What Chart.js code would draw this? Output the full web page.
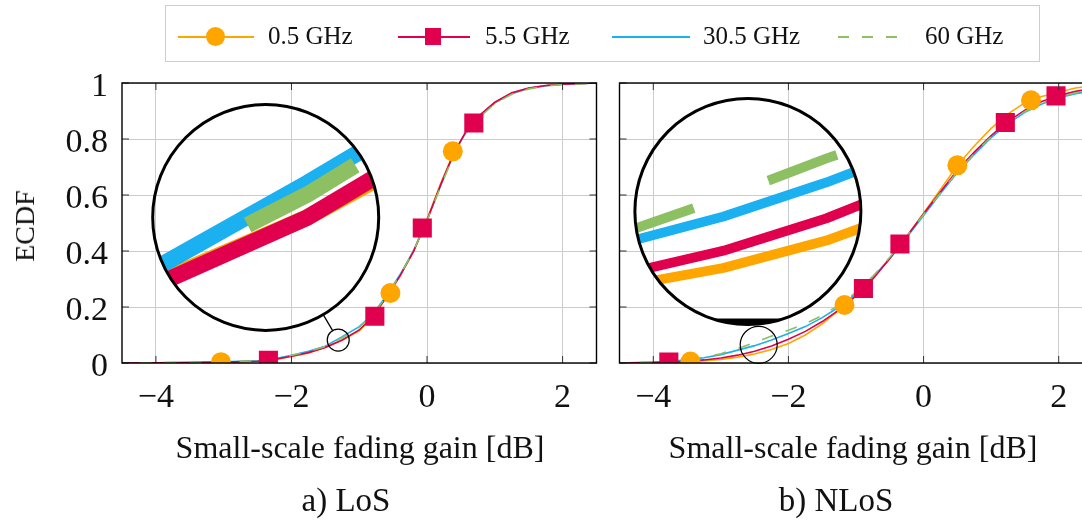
<!DOCTYPE html>
<html><head><meta charset="utf-8">
<script src="https://cdn.jsdelivr.net/npm/chart.js@4.4.1/dist/chart.umd.min.js"></script>
<style>
html,body{margin:0;padding:0;background:#fff;}
body{width:1082px;height:523px;overflow:hidden;position:relative;font-family:"Liberation Serif","DejaVu Serif",serif;color:#111;}
.cw{position:absolute;top:0;}
.t{position:absolute;white-space:nowrap;line-height:1;}
.ctr{transform:translate(-50%,-50%);}
#legend{position:absolute;left:165px;top:5px;width:875px;height:57px;border:1.5px solid #cdcdcd;box-sizing:border-box;}
.ll{position:absolute;height:2px;top:36px;}
.lt{position:absolute;top:22px;font-size:25px;line-height:28px;white-space:nowrap;}
</style></head>
<body>
<div class="cw" style="left:0;width:610px;height:523px"><canvas id="c1" width="610" height="523"></canvas></div>
<div class="cw" style="left:606px;width:500px;height:523px"><canvas id="c2" width="500" height="523"></canvas></div>

<div id="legend"></div>
<div class="ll" style="left:178px;width:76px;background:#FFA500"></div>
<div style="position:absolute;left:206px;top:27px;width:19px;height:19px;border-radius:50%;background:#FFA500"></div>
<div class="lt" style="left:268px">0.5 GHz</div>
<div class="ll" style="left:398px;width:72px;background:#E0004D"></div>
<div style="position:absolute;left:425px;top:28px;width:16px;height:17px;background:#E0004D"></div>
<div class="lt" style="left:485px">5.5 GHz</div>
<div class="ll" style="left:612px;width:78px;background:#1BB0F0"></div>
<div class="lt" style="left:703px">30.5 GHz</div>
<div class="ll" style="left:838px;width:72px;background:repeating-linear-gradient(to right,#8CC063 0 11px,transparent 11px 24px)"></div>
<div class="lt" style="left:925px">60 GHz</div>

<div class="t ctr" style="left:25px;top:226px;font-size:28px;transform:translate(-50%,-50%) rotate(-90deg)">ECDF</div>
<div class="t ctr" style="left:360px;top:447px;font-size:32px">Small-scale fading gain [dB]</div>
<div class="t ctr" style="left:853px;top:447px;font-size:32px">Small-scale fading gain [dB]</div>
<div class="t ctr" style="left:346px;top:500px;font-size:33px">a) LoS</div>
<div class="t ctr" style="left:836px;top:500px;font-size:33px">b) NLoS</div>

<script>
// ---------- data ----------
const seriesNames = ['0.5 GHz','5.5 GHz','30.5 GHz','60 GHz'];
const yTicks = [0, 0.2, 0.4, 0.6, 0.8, 1];
const xTicks = [-4, -2, 0, 2];

// LoS
const losX   = [-4.5,-4,-3.5,-3,-2.5,-2.25,-2,-1.75,-1.5,-1.25,-1,-0.8,-0.6,-0.4,-0.2,0,0.2,0.4,0.6,0.8,1,1.25,1.5,1.75,2,2.5];
const los05  = [0,0.001,0.002,0.003,0.006,0.012,0.023,0.036,0.056,0.082,0.115,0.163,0.235,0.31,0.40,0.515,0.64,0.755,0.835,0.885,0.928,0.962,0.98,0.99,0.996,1];
const los55  = [0,0.001,0.002,0.003,0.006,0.013,0.024,0.037,0.055,0.082,0.118,0.166,0.235,0.31,0.398,0.51,0.636,0.752,0.838,0.89,0.932,0.965,0.982,0.991,0.996,1];
const los305 = [0,0.001,0.002,0.004,0.008,0.015,0.028,0.042,0.06,0.094,0.13,0.174,0.24,0.315,0.40,0.51,0.632,0.75,0.835,0.888,0.93,0.963,0.981,0.99,0.996,1];
const los60  = [0,0.001,0.002,0.004,0.008,0.015,0.027,0.041,0.059,0.09,0.127,0.171,0.238,0.313,0.40,0.508,0.63,0.746,0.83,0.883,0.926,0.96,0.979,0.989,0.995,1];
const losMark05X = [-3.04,-0.54,0.38];
const losMark05Y = [0.003,0.25,0.756];
const losMark55X = [-2.34,-0.77,-0.07,0.69];
const losMark55Y = [0.01,0.167,0.482,0.857];

// NLoS
const nlosX   = [-4.5,-4,-3.75,-3.5,-3.25,-3,-2.75,-2.5,-2.25,-2,-1.75,-1.5,-1.25,-1,-0.75,-0.5,-0.25,0,0.25,0.5,0.75,1,1.25,1.5,1.75,2,2.25,2.5];
const nlos05  = [0,0.001,0.002,0.004,0.008,0.013,0.021,0.032,0.048,0.07,0.1,0.14,0.19,0.245,0.305,0.375,0.452,0.535,0.62,0.705,0.775,0.838,0.89,0.93,0.952,0.968,0.982,0.99];
const nlos55  = [0,0.002,0.003,0.006,0.011,0.018,0.028,0.042,0.061,0.085,0.113,0.148,0.19,0.24,0.3,0.373,0.452,0.533,0.612,0.688,0.753,0.812,0.863,0.903,0.934,0.955,0.97,0.98];
const nlos305 = [0,0.003,0.006,0.011,0.019,0.03,0.046,0.062,0.082,0.105,0.13,0.162,0.2,0.248,0.305,0.372,0.448,0.527,0.605,0.68,0.745,0.805,0.855,0.895,0.925,0.947,0.962,0.972];
const nlos60  = [0,0.003,0.006,0.012,0.021,0.033,0.052,0.073,0.096,0.117,0.14,0.17,0.207,0.252,0.31,0.378,0.452,0.53,0.608,0.683,0.748,0.808,0.858,0.898,0.928,0.95,0.965,0.975];
const nlosMark05X = [-3.45,-1.17,0.5,1.59];
const nlosMark05Y = [0.005,0.207,0.706,0.938];
const nlosMark55X = [-3.77,-0.89,-0.35,1.21,1.96];
const nlosMark55Y = [0.003,0.266,0.425,0.859,0.954];

// ---------- styles ----------
const COL = {o:'#FFA500', r:'#E0004D', b:'#1BB0F0', g:'#8CC063'};
const FONT = "'Liberation Serif','DejaVu Serif',serif";
const pts = (xs, ys) => xs.map((x,i)=>({x, y:ys[i]}));

function lineDs(label, xs, ys, color, dash, dashOff){
  return {label, data:pts(xs,ys), showLine:true, borderColor:color, backgroundColor:color,
    borderWidth:1.6, borderDash:dash||[], borderDashOffset:dashOff||0, pointRadius:0, tension:0, fill:false};
}
function markDs(label, xs, ys, color, style, r){
  return {label, data:pts(xs,ys), showLine:false, borderColor:color, backgroundColor:color,
    pointStyle:style, pointRadius:r, pointBorderWidth:0, pointHoverRadius:r};
}

const framePlugin = {
  id:'frame',
  afterDraw(chart){
    const {ctx, chartArea:a} = chart;
    const X = chart.scales.x, Y = chart.scales.y;
    ctx.save();
    ctx.strokeStyle = '#333'; ctx.lineWidth = 1;
    xTicks.forEach(v=>{const p = X.getPixelForValue(v); ctx.beginPath();
      ctx.moveTo(p,a.bottom); ctx.lineTo(p,a.bottom-7); ctx.moveTo(p,a.top); ctx.lineTo(p,a.top+7); ctx.stroke();});
    yTicks.forEach(v=>{const p = Y.getPixelForValue(v); ctx.beginPath();
      ctx.moveTo(a.left,p); ctx.lineTo(a.left+7,p); ctx.moveTo(a.right,p); ctx.lineTo(a.right-7,p); ctx.stroke();});
    ctx.strokeStyle = '#000'; ctx.lineWidth = 1.4;
    ctx.strokeRect(a.left, a.top, a.right-a.left, a.bottom-a.top);
    ctx.restore();
  }
};

const spyPlugin = {
  id:'spy',
  afterDatasetsDraw(chart, args, o){
    if (!o || o.x === undefined) return;
    const ctx = chart.ctx, X = chart.scales.x, Y = chart.scales.y;
    const sx = X.getPixelForValue(o.x), sy = Y.getPixelForValue(o.y);
    const bx = X.getPixelForValue(o.bx), by = Y.getPixelForValue(o.by);
    const m = o.R / o.r;
    ctx.save();
    ctx.beginPath(); ctx.arc(bx, by, o.R, 0, Math.PI*2); ctx.clip();
    ctx.translate(bx, by); ctx.scale(m, m); ctx.translate(-sx, -sy);
    const metas = chart.getSortedVisibleDatasetMetas();
    for (let i = metas.length-1; i >= 0; i--){
      const meta = metas[i], ds = chart.data.datasets[meta.index];
      if (!ds.showLine) continue;
      ctx.beginPath();
      meta.data.forEach((p,j)=>{ j ? ctx.lineTo(p.x,p.y) : ctx.moveTo(p.x,p.y); });
      ctx.strokeStyle = ds.borderColor; ctx.lineWidth = ds.borderWidth;
      ctx.setLineDash(ds.borderDash || []); ctx.lineDashOffset = ds.borderDashOffset || 0;
      ctx.lineJoin = 'round';
      ctx.stroke();
    }
    ctx.restore();
    ctx.save();
    ctx.strokeStyle = '#000';
    const dx = sx-bx, dy = sy-by, d = Math.hypot(dx,dy), ux = dx/d, uy = dy/d;
    const gap = d - o.R - o.r;
    if (gap > 3){
      ctx.lineWidth = 1.3; ctx.beginPath();
      ctx.moveTo(bx+ux*o.R, by+uy*o.R); ctx.lineTo(sx-ux*o.r, sy-uy*o.r); ctx.stroke();
    } else {
      ctx.save(); ctx.beginPath(); ctx.arc(bx,by,o.R,0,Math.PI*2); ctx.clip();
      ctx.fillStyle = '#000'; ctx.fillRect(bx-o.R, by+o.R-6, 2*o.R, 8); ctx.restore();
    }
    ctx.lineWidth = 3; ctx.beginPath(); ctx.arc(bx,by,o.R,0,Math.PI*2); ctx.stroke();
    ctx.lineWidth = 1.2; ctx.beginPath(); ctx.arc(sx,sy,o.r,0,Math.PI*2); ctx.stroke();
    ctx.restore();
  }
};

function makeChart(id, xs, s05, s305, s55, s60, m05x, m05y, m55x, m55y, showY, pad, yW, spy, dashOff){
  const datasets = [
    markDs(seriesNames[0]+' marks', m05x, m05y, COL.o, 'circle', 10),
    markDs(seriesNames[1]+' marks', m55x, m55y, COL.r, 'rect', 13.5),
    lineDs(seriesNames[3], xs, s60, COL.g, [12,13], dashOff),
    lineDs(seriesNames[1], xs, s55, COL.r),
    lineDs(seriesNames[2], xs, s305, COL.b),
    lineDs(seriesNames[0], xs, s05, COL.o)
  ];
  return new Chart(document.getElementById(id), {
    type:'line',
    data:{datasets},
    plugins:[spyPlugin, framePlugin],
    options:{
      responsive:false, animation:false, events:[],
      layout:{padding:pad},
      plugins:{legend:{display:false}, tooltip:{enabled:false}, spy},
      scales:{
        x:{type:'linear', min:-4.5, max:2.5,
          afterBuildTicks:s=>{s.ticks = xTicks.map(v=>({value:v}));},
          afterFit:s=>{s.height = 160;},
          grid:{color:'#cccccc', lineWidth:1, drawTicks:false},
          border:{display:false},
          ticks:{padding:15, color:'#111', font:{family:FONT, size:34},
            callback:v=>String(v).replace('-', '\u2212')}},
        y:{type:'linear', min:0, max:1,
          afterBuildTicks:s=>{s.ticks = yTicks.map(v=>({value:v}));},
          afterFit:s=>{s.width = yW;},
          grid:{color:'#cccccc', lineWidth:1, drawTicks:false},
          border:{display:false},
          ticks:{display:showY, padding:14, labelOffset:4, color:'#111', font:{family:FONT, size:34},
            callback:v=>String(v)}}
      }
    }
  });
}

makeChart('c1', losX, los05, los305, los55, los60, losMark05X, losMark05Y, losMark55X, losMark55Y,
  true, {top:83, right:10, left:0, bottom:0}, 122,
  {x:-1.31, y:0.082, r:11, bx:-2.38, by:0.52, R:113}, 7.5);
makeChart('c2', nlosX, nlos05, nlos305, nlos55, nlos60, nlosMark05X, nlosMark05Y, nlosMark55X, nlosMark55Y,
  false, {top:83, right:13, left:0, bottom:0}, 7,
  {x:-2.44, y:0.065, r:18.5, bx:-2.60, by:0.541, R:113}, 4.5);
</script>
</body></html>
